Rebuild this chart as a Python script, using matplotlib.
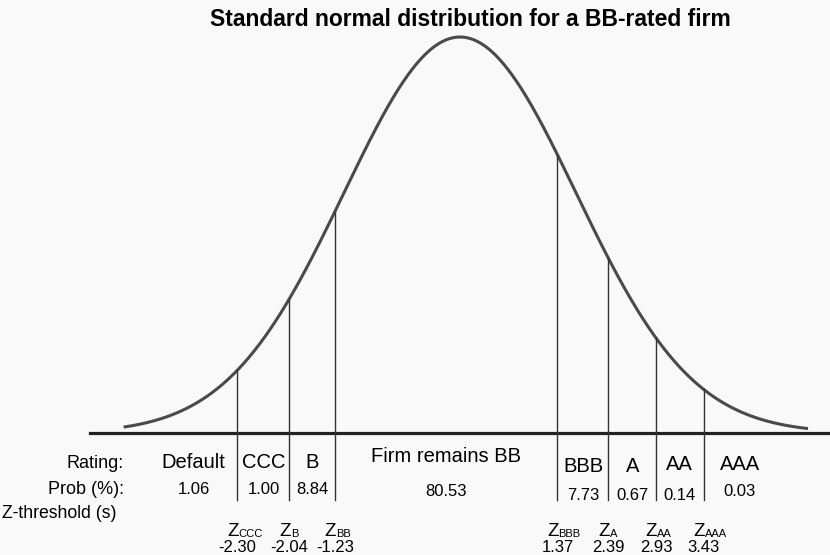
import numpy as np
import matplotlib.pyplot as plt

plt.rcParams['font.family'] = ['Liberation Sans', 'DejaVu Sans']

# data
ratings = ['Default', 'CCC', 'B', 'Firm remains BB', 'BBB', 'A', 'AA', 'AAA']
probs = [1.06, 1.00, 8.84, 80.53, 7.73, 0.67, 0.14, 0.03]
z_names = ['CCC', 'B', 'BB', 'BBB', 'A', 'AA', 'AAA']
z_values = [-2.30, -2.04, -1.23, 1.37, 2.39, 2.93, 3.43]

# the picture is a sketch: thresholds sit at these spots on the drawn bell (sigma units)
line_pos = [-1.92, -1.47, -1.08, 0.84, 1.28, 1.69, 2.10]
edges = [-2.67] + line_pos + [2.72]

# text rows, in pixels from the top of the 555 px image
rating_py = [463, 463, 463, 456, 467, 467, 464, 464]
prob_py = [490, 490, 490, 491, 495, 495, 495, 491]
W, H = 830, 555


def fy(py):
    return 1 - py / H


def pdf(x):
    return np.exp(-x ** 2 / 2) / np.sqrt(2 * np.pi)


fig = plt.figure(figsize=(8.3, 5.55), dpi=100, facecolor='#f9f9f9')
ax = fig.add_axes([0, 0, 1, 1])
ax.set_facecolor('#f9f9f9')
sig = 116.0
ax.set_xlim(-460 / sig, (W - 460) / sig)
scale = 396 / pdf(0)
ax.set_ylim(-(H - 433) / scale, 433 / scale)
ax.axis('off')

# bell curve and base line
xs = np.linspace(-2.9, 3.0, 400)
ax.plot(xs, pdf(xs), color='#4a4a4a', lw=2.2, solid_capstyle='butt')
ax.plot([(90 - 460) / sig, (W - 460) / sig], [0, 0], color='#222222', lw=2.3)

# threshold lines, from below the axis up to the curve
bottom = -(500 - 433) / scale
for p in line_pos:
    ax.plot([p, p], [bottom, pdf(p)], color='#333333', lw=1.0)

tr = ax.get_xaxis_transform()

# row headers
fig.text(124 / W, fy(463), 'Rating:', ha='right', va='center', fontsize=13)
fig.text(124 / W, fy(490), 'Prob (%):', ha='right', va='center', fontsize=13)
fig.text(2 / W, fy(513), 'Z-threshold (s)', ha='left', va='center', fontsize=12.7)

# rating names and probabilities centred in each band
for i, (name, pr) in enumerate(zip(ratings, probs)):
    mid = (edges[i] + edges[i + 1]) / 2
    ax.text(mid, fy(rating_py[i]), name, transform=tr, ha='center', va='center',
            fontsize=14.5)
    ax.text(mid, fy(prob_py[i]), f'{pr:.2f}', transform=tr, ha='center',
            va='center', fontsize=12)

# z labels and values under each line
for p, nm, zv in zip(line_pos, z_names, z_values):
    ax.text(p + 0.01, fy(535.5), 'Z', transform=tr, ha='right', va='baseline',
            fontsize=13.5)
    ax.text(p + 0.01, fy(537), nm, transform=tr, ha='left', va='baseline',
            fontsize=8)
    ax.text(p, fy(552), f'{zv:.2f}', transform=tr, ha='center', va='baseline',
            fontsize=12)

fig.text(470 / W, fy(20), 'Standard normal distribution for a BB-rated firm',
         ha='center', va='center', fontsize=16.5, fontweight='bold')

fig.savefig('out.png', dpi=100, facecolor=fig.get_facecolor())
